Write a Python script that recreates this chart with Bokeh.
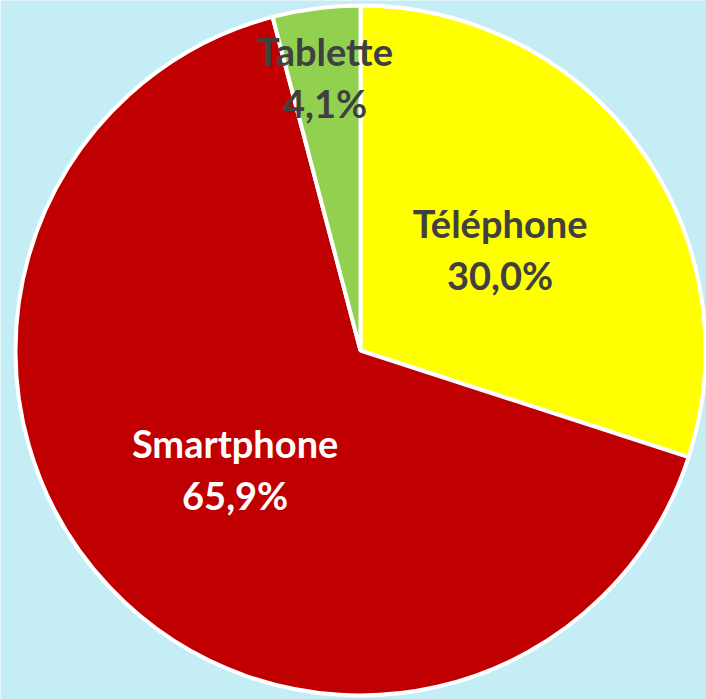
import math
from bokeh.plotting import figure
from bokeh.models import ColumnDataSource, Range1d
from bokeh.core.properties import value
from bokeh.embed import file_html
from bokeh.resources import INLINE

categories = ["Téléphone", "Smartphone", "Tablette"]
shares = [30.0, 65.9, 4.1]
pct_labels = ["30,0%", "65,9%", "4,1%"]
colors = ["#FFFF00", "#C00000", "#92D050"]
text_colors = ["#404040", "#FFFFFF", "#404040"]
label_radius_frac = [0.5, 0.5, 0.8]

W, H = 706, 699
cx, cy = 360, H - 350
R = 345

starts, ends, lx, ly = [], [], [], []
a = math.pi / 2
total = sum(shares)
for s, f in zip(shares, label_radius_frac):
    span = 2 * math.pi * s / total
    starts.append(a - span)
    ends.append(a)
    mid = a - span / 2
    lx.append(cx + f * R * math.cos(mid))
    ly.append(cy + f * R * math.sin(mid))
    a -= span

src = ColumnDataSource(dict(
    x=[cx] * 3, y=[cy] * 3, start=starts, end=ends, color=colors,
    lx=lx, ly=ly, cat=categories, pct=pct_labels, tc=text_colors,
))

p = figure(width=W, height=H, output_backend="svg", toolbar_location=None,
           x_range=Range1d(0, W), y_range=Range1d(0, H), min_border=0)
p.axis.visible = False
p.grid.visible = False
p.outline_line_color = None
p.background_fill_color = "#C4EDF5"
p.border_fill_color = "#C4EDF5"

p.wedge(x="x", y="y", radius=R, start_angle="start", end_angle="end",
        fill_color="color", line_color="white", line_width=4, source=src)

p.text(x="lx", y="ly", text="cat", text_color="tc", source=src,
       text_font=value("Lato"), text_font_style="bold", text_font_size="38px",
       text_align="center", text_baseline="middle", y_offset=-26)
p.text(x="lx", y="ly", text="pct", text_color="tc", source=src,
       text_font=value("Lato"), text_font_style="bold", text_font_size="38px",
       text_align="center", text_baseline="middle", y_offset=26)

open("out.html", "w").write(file_html(p, INLINE))
